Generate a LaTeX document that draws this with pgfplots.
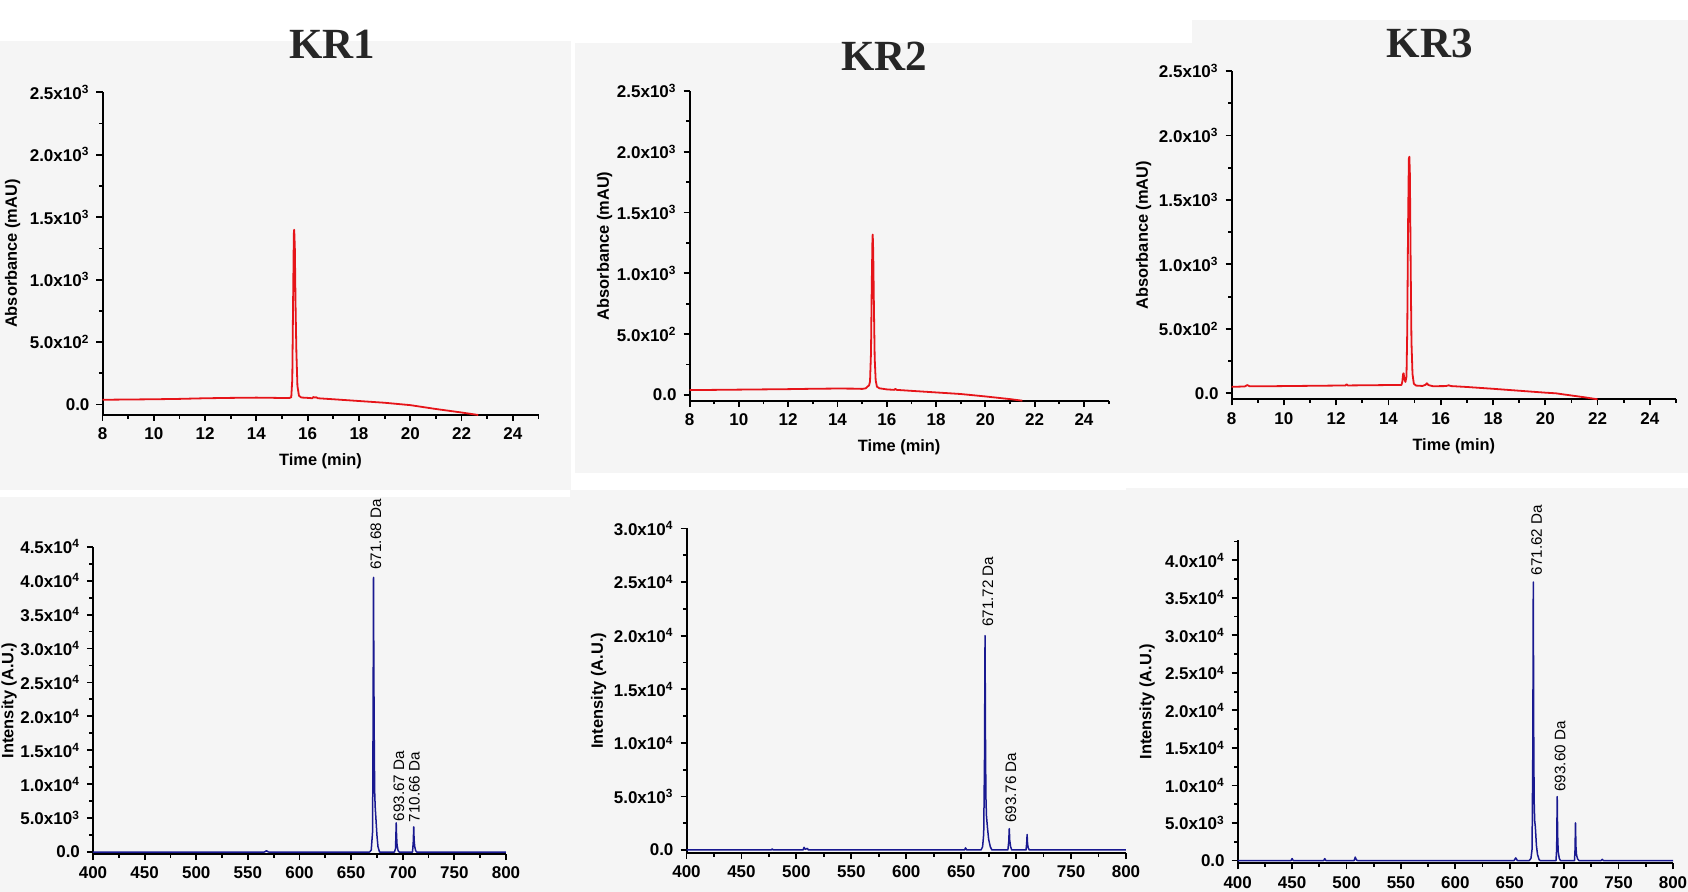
\documentclass[border=0pt]{standalone}
\usepackage{pgfplots}
\pgfplotsset{compat=1.18}
\usepackage{fontspec}
\setmainfont{Liberation Sans}
\newfontfamily\titlefont{Liberation Serif}
\definecolor{hplcred}{RGB}{230,20,25}
\definecolor{msblue}{RGB}{25,25,145}
\definecolor{bgg}{RGB}{245,245,245}

\tikzset{
  lbl/.style={rotate=90, anchor=west, inner sep=0pt, font=\fontsize{7.6}{9}\selectfont},
  redline/.style={color=hplcred, line width=0.9pt, line join=round},
  blueline/.style={color=msblue, line width=0.75pt, line join=round},
}
\pgfplotsset{
  base/.style={
    scale only axis,
    axis x line=bottom, axis y line=left,
    axis line style={-, line width=1pt, black},
    tick align=outside,
    major tick length=3pt, minor tick length=1.8pt,
    tick style={line width=0.9pt, black},
    scaled y ticks=false, scaled x ticks=false,
    /pgf/number format/assume math mode=true,
    ticklabel style={font=\fontsize{8.5}{10}\selectfont\bfseries},
    label style={font=\fontsize{8.2}{10}\selectfont\bfseries},
    anchor=south west, clip=false,
  },
  ylpos/.style={ylabel style={at={(axis description cs:#1,0.5)}, anchor=center}},
  hplc/.style={base, xmin=8, xmax=25, ymax=2500,
    xtick={8,10,...,24}, minor xtick={9,11,...,25},
    ytick={0,500,...,2500}, minor ytick={250,750,...,2250},
    yticklabels={0.0,5.0x10\textsuperscript{2},1.0x10\textsuperscript{3},1.5x10\textsuperscript{3},2.0x10\textsuperscript{3},2.5x10\textsuperscript{3}},
    xlabel={Time (min)}, ylabel={Absorbance (mAU)}},
  ms/.style={base, xmin=400, xmax=800,
    xtick={400,450,...,800}, minor xtick={425,475,...,775},
    ylabel={Intensity (A.U.)}},
}

\begin{document}
\begin{tikzpicture}
\useasboundingbox (0,0) rectangle (844pt,-446pt);
\clip (0,0) rectangle (844pt,-446pt);
\fill[white] (0,0) rectangle (844pt,-446pt);
\fill[bgg] (0,-20.5pt) rectangle (285.5pt,-245pt);
\fill[bgg] (287.5pt,-21.5pt) rectangle (596pt,-236.5pt);
\fill[bgg] (596pt,-10pt) rectangle (844pt,-236.5pt);
\fill[bgg] (0,-248.5pt) rectangle (285pt,-446pt);
\fill[bgg] (285pt,-245pt) rectangle (563pt,-446pt);
\fill[bgg] (563pt,-244pt) rectangle (844pt,-446pt);

\node[font=\titlefont\bfseries\fontsize{21.5}{24}\selectfont, text=black!85, inner sep=0pt] at (166pt,-22pt) {KR1};
\node[font=\titlefont\bfseries\fontsize{21.5}{24}\selectfont, text=black!85, inner sep=0pt] at (442pt,-28.1pt) {KR2};
\node[font=\titlefont\bfseries\fontsize{21.5}{24}\selectfont, text=black!85, inner sep=0pt] at (714.8pt,-21.65pt) {KR3};

% KR1 HPLC
\begin{axis}[hplc, ylpos=-0.206, at={(51.25pt,-207.5pt)}, width=218pt, height=161.35pt, ymin=-84]
\addplot[redline] coordinates {(8,38) (9,40) (10,42) (11,45) (12,50) (13,53) (14,55) (14.5,54) (15,52) (15.3,53) (15.36,58) (15.40,200) (15.43,800) (15.46,1370) (15.475,1400) (15.50,1250) (15.53,760) (15.56,420) (15.60,150) (15.66,70) (15.75,56) (16,53) (16.18,50) (16.22,60) (16.28,56) (16.33,58) (16.4,50) (16.7,46) (17,42) (18,28) (19,14) (20,-5) (21,-36) (22,-64) (22.65,-84)};
\end{axis}

% KR2 HPLC
\begin{axis}[hplc, ylpos=-0.203, at={(344.8pt,-200.35pt)}, width=209.5pt, height=154.85pt, ymin=-47]
\addplot[redline] coordinates {(8,40) (9,42) (10,44) (11,46) (12,48) (13,51) (14,53) (14.7,52) (15,50) (15.15,55) (15.22,70) (15.28,78) (15.32,110) (15.36,350) (15.39,900) (15.42,1300) (15.43,1320) (15.45,1180) (15.48,700) (15.51,300) (15.55,120) (15.6,68) (15.7,55) (16,46) (16.3,42) (16.35,50) (16.4,42) (17,34) (18,21) (19,8) (20,-12) (21,-34) (21.5,-47)};
\end{axis}

% KR3 HPLC
\begin{axis}[hplc, ylpos=-0.198, at={(615.8pt,-199.65pt)}, width=222.2pt, height=164.15pt, ymin=-46.5]
\addplot[redline] coordinates {(8,50) (8.5,53) (8.6,64) (8.7,54) (9,54) (10,56) (11,58) (12,60) (12.35,60) (12.4,70) (12.45,61) (13,62) (14,64) (14.5,65) (14.53,90) (14.56,150) (14.58,155) (14.61,110) (14.65,88) (14.69,130) (14.72,500) (14.75,1300) (14.78,1820) (14.80,1835) (14.82,1700) (14.85,1000) (14.88,400) (14.92,150) (14.97,75) (15.05,60) (15.3,57) (15.42,66) (15.47,78) (15.53,64) (15.7,55) (16.2,56) (16.3,62) (16.4,56) (17,49) (18,35) (19,20) (20,5) (20.4,0) (21,-17) (21.5,-31) (22,-46.5)};
\end{axis}

% KR1 MS
\begin{axis}[ms, ylpos=-0.203, at={(46.5pt,-427pt)}, width=206.5pt, height=153.6pt, ymin=-295, ymax=45000,
  ytick={0,5000,...,45000}, minor ytick={2500,7500,...,42500},
  yticklabels={0.0,5.0x10\textsuperscript{3},1.0x10\textsuperscript{4},1.5x10\textsuperscript{4},2.0x10\textsuperscript{4},2.5x10\textsuperscript{4},3.0x10\textsuperscript{4},3.5x10\textsuperscript{4},4.0x10\textsuperscript{4},4.5x10\textsuperscript{4}},
  xlabel={m/z}]
\addplot[blueline] coordinates {(400,0) (566,0) (568,180) (570,0) (668,0) (669.5,300) (670.8,3000) (671.3,20000) (671.68,40500) (672.0,28000) (672.3,18500) (672.8,9000) (673.3,6700) (674,5000) (675,2500) (676,800) (677.5,0) (692,0) (693,500) (693.4,2500) (693.67,4300) (694,2500) (694.5,1000) (695.5,200) (696.5,0) (709.5,0) (710.2,1500) (710.66,3700) (711,1800) (711.6,800) (712.5,200) (713.5,0) (800,0)};
\node[lbl] at (axis cs:674.1,41600) {671.68 Da};
\node[lbl] at (axis cs:696.2,4470) {693.67 Da};
\node[lbl] at (axis cs:711.3,4320) {710.66 Da};
\end{axis}

% KR2 MS
\begin{axis}[ms, ylpos=-0.2, at={(343.25pt,-426.5pt)}, width=219.75pt, height=162.25pt, ymin=-280, ymax=30000,
  ytick={0,5000,...,30000}, minor ytick={2500,7500,...,27500},
  yticklabels={0.0,5.0x10\textsuperscript{3},1.0x10\textsuperscript{4},1.5x10\textsuperscript{4},2.0x10\textsuperscript{4},2.5x10\textsuperscript{4},3.0x10\textsuperscript{4}}]
\addplot[blueline] coordinates {(400,0) (477,0) (478,100) (479,0) (506,0) (507,250) (508,60) (510,150) (511,0) (653,0) (654,200) (655,0) (668,0) (669.5,300) (670.5,1500) (671.2,8000) (671.72,20000) (672.1,10700) (672.5,5000) (673,3200) (674,2000) (675,1000) (676.5,300) (678,0) (692.5,0) (693.3,800) (693.76,2000) (694.2,900) (695,300) (696,0) (709,0) (709.6,600) (710.0,1450) (710.4,600) (711,200) (712,0) (800,0)};
\node[lbl] at (axis cs:674.3,20800) {671.72 Da};
\node[lbl] at (axis cs:695.3,2500) {693.76 Da};
\end{axis}

% KR3 MS
\begin{axis}[ms, ylpos=-0.208, at={(618.85pt,-431.65pt)}, width=217.65pt, height=161.65pt, ymin=-372, ymax=42700,
  ytick={0,5000,...,40000}, minor ytick={2500,7500,...,42500},
  yticklabels={0.0,5.0x10\textsuperscript{3},1.0x10\textsuperscript{4},1.5x10\textsuperscript{4},2.0x10\textsuperscript{4},2.5x10\textsuperscript{4},3.0x10\textsuperscript{4},3.5x10\textsuperscript{4},4.0x10\textsuperscript{4}}]
\addplot[blueline] coordinates {(400,0) (449,0) (450,250) (451,0) (479,0) (480,250) (481,0) (507,0) (508,450) (509,100) (510,0) (654,0) (655.5,350) (657,0) (668,0) (669.5,300) (670.5,1500) (671.2,15000) (671.62,37100) (672.0,17300) (672.4,8000) (672.9,5300) (673.5,4500) (674.5,2000) (675.5,800) (677,100) (678,0) (692.5,0) (693.1,1500) (693.6,8500) (694.0,3400) (694.5,1200) (695.5,300) (696.5,0) (709.5,0) (710.0,1500) (710.4,5000) (710.8,1900) (711.4,700) (712.4,200) (713.5,0) (734,0) (735,150) (736,0) (800,0)};
\node[lbl] at (axis cs:674.6,37940) {671.62 Da};
\node[lbl] at (axis cs:696.2,9140) {693.60 Da};
\end{axis}
\end{tikzpicture}
\end{document}
